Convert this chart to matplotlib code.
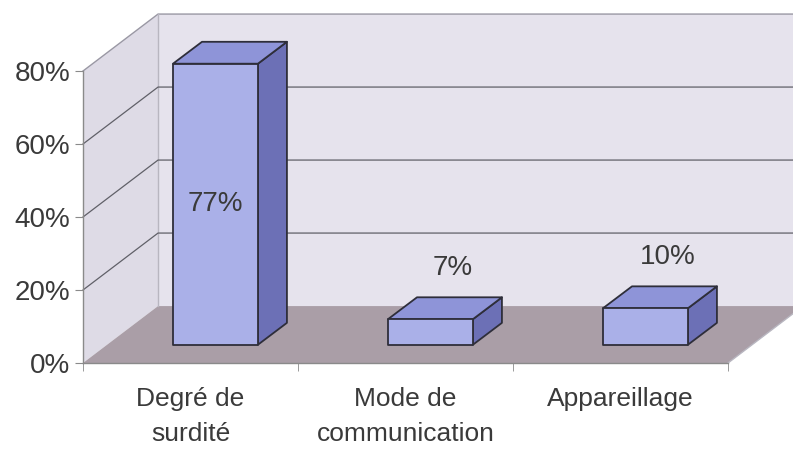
import matplotlib.pyplot as plt
from matplotlib.patches import Polygon

plt.rcParams['font.family'] = ['Liberation Sans', 'DejaVu Sans']

categories = ['Degré de\nsurdité', 'Mode de\ncommunication', 'Appareillage']
values = [77, 7, 10]
labels = ['77%', '7%', '10%']
yticks = [0, 20, 40, 60, 80]
ytick_labels = ['0%', '20%', '40%', '60%', '80%']

# 3D look: depth offset of the walls and of the bars (data units)
wall_dx, wall_dy = 0.349, 15.6
front_dx, front_dy = 0.116, 5.0
bar_dx, bar_dy = 0.135, 6.0
bar_w = 0.395
ymax = 80
n = len(categories)

text_col = '#3a3a3a'
edge = '#2e2e3a'

fig = plt.figure(figsize=(7.93, 4.53), dpi=100)
ax = fig.add_axes([83 / 793, 90 / 453, 645 / 793, 292 / 453])
ax.set_xlim(0, n)
ax.set_ylim(0, ymax)
ax.set_facecolor('none')

# walls and floor
left_wall = [(0, 0), (wall_dx, wall_dy), (wall_dx, ymax + wall_dy), (0, ymax)]
back_wall = [(wall_dx, wall_dy), (n + wall_dx + 0.2, wall_dy),
             (n + wall_dx + 0.2, ymax + wall_dy), (wall_dx, ymax + wall_dy)]
floor = [(0, 0), (n, 0), (n + wall_dx, wall_dy), (wall_dx, wall_dy)]
ax.add_patch(Polygon(left_wall, closed=True, facecolor='#dedbe6', edgecolor='none', clip_on=False, zorder=0))
ax.add_patch(Polygon(back_wall, closed=True, facecolor='#e6e3ed', edgecolor='none', clip_on=False, zorder=0))
ax.add_patch(Polygon(floor, closed=True, facecolor='#aa9ea7', edgecolor='none', clip_on=False, zorder=1))

# wall edges
ax.plot([0, wall_dx, n + wall_dx + 0.2], [ymax, ymax + wall_dy, ymax + wall_dy],
        color='#9a98a4', lw=1, clip_on=False, zorder=1)
ax.plot([wall_dx, wall_dx], [wall_dy, ymax + wall_dy], color='#b8b6c0', lw=1, clip_on=False, zorder=1)
ax.plot([n, n + wall_dx], [0, wall_dy], color='#b8b6c0', lw=1, clip_on=False, zorder=1)

# gridlines
for g in yticks[1:-1]:
    ax.plot([0, wall_dx, n + wall_dx + 0.2], [g, g + wall_dy, g + wall_dy],
            color='#606068', lw=0.9, clip_on=False, zorder=1)

# bars
for i, v in enumerate(values):
    c = i + 0.5
    x0 = c - bar_w / 2 + front_dx
    x1 = c + bar_w / 2 + front_dx
    b = front_dy
    front = [(x0, b), (x1, b), (x1, b + v), (x0, b + v)]
    top = [(x0, b + v), (x1, b + v), (x1 + bar_dx, b + v + bar_dy), (x0 + bar_dx, b + v + bar_dy)]
    side = [(x1, b), (x1 + bar_dx, b + bar_dy), (x1 + bar_dx, b + v + bar_dy), (x1, b + v)]
    for poly, col in [(side, '#6c70b6'), (top, '#8e94d8'), (front, '#aab0e8')]:
        ax.add_patch(Polygon(poly, closed=True, facecolor=col, edgecolor=edge, lw=1.3,
                             joinstyle='round', clip_on=False, zorder=3))

    if v > ymax / 2:
        ax.text(c + front_dx, b + v / 2, labels[i], ha='center', va='center',
                fontsize=20, color=text_col, zorder=4)
    else:
        ax.text(c + 0.22, b + v + bar_dy + 8, labels[i], ha='center', va='center',
                fontsize=20, color=text_col, zorder=4)

# axes
for s in ['top', 'right']:
    ax.spines[s].set_visible(False)
for s in ['left', 'bottom']:
    ax.spines[s].set_color('#8a8a8a')
    ax.spines[s].set_linewidth(1)
    ax.spines[s].set_zorder(2)

ax.set_yticks(yticks)
ax.set_yticklabels(ytick_labels, fontsize=20, color=text_col)
ax.tick_params(axis='y', length=6, color='#8a8a8a', pad=3)

ax.set_xticks([i + 0.5 for i in range(n)])
ax.set_xticklabels(categories, fontsize=19, color=text_col, linespacing=1.6)
ax.set_xticks(range(n + 1), minor=True)
ax.tick_params(axis='x', which='major', length=0, pad=17)
ax.tick_params(axis='x', which='minor', length=6, color='#8a8a8a')

fig.savefig('out.png', dpi=100, facecolor='white')
